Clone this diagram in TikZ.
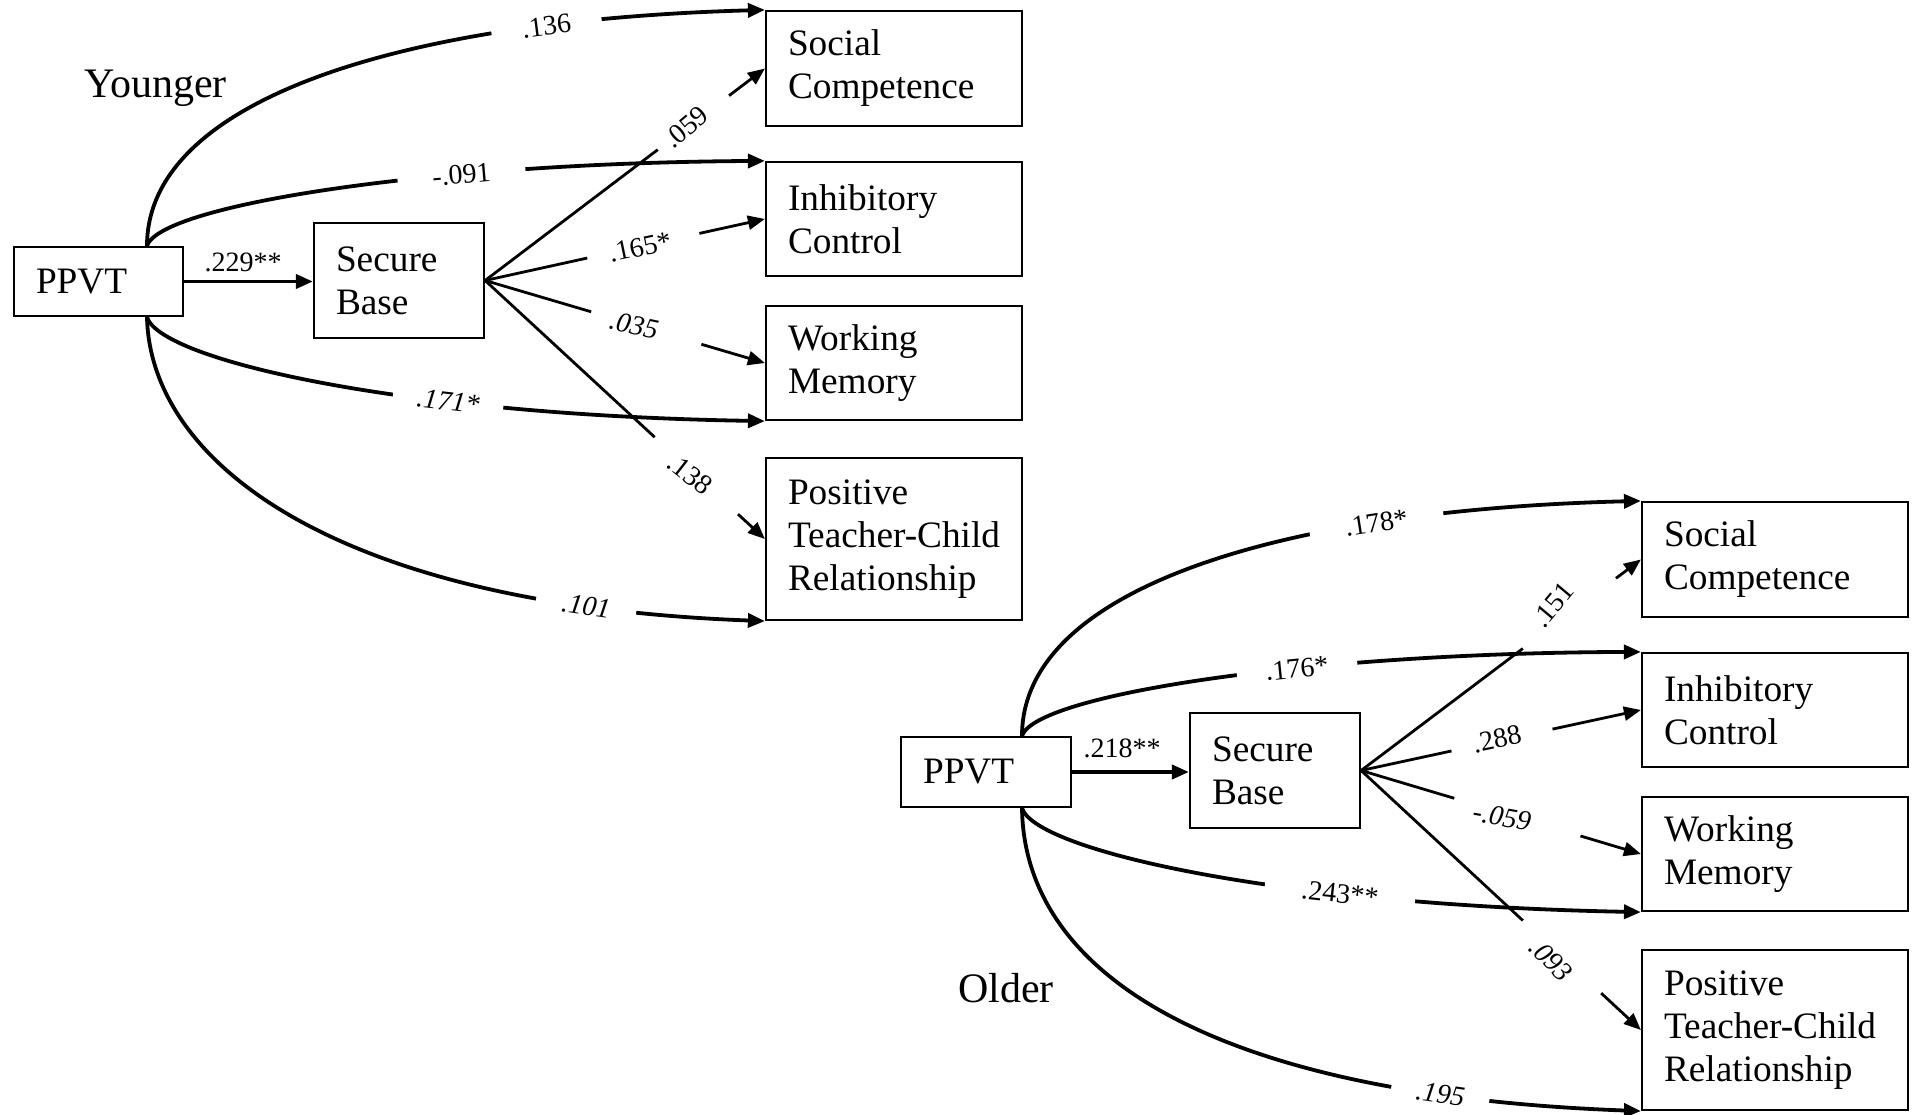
\documentclass[tikz,border=0pt]{standalone}
\usepackage{fontspec}
\setmainfont{Liberation Serif}
\usetikzlibrary{arrows.meta,calc}
\newcommand\bxfont{\fontsize{37.3}{43}\selectfont}
\newcommand\lbfont{\fontsize{28}{34}\selectfont}
\newcommand\grfont{\fontsize{42}{50}\selectfont}
\begin{document}
\begin{tikzpicture}[x=1pt,y=-1pt,
  bx/.style={draw, line width=2.2pt, inner xsep=22pt, inner ysep=0pt, align=left, font=\bxfont},
  tip/.style={-{Triangle[length=17pt,width=14pt]}},
  crv/.style={line width=3.8pt},
  sbl/.style={line width=2.8pt},
  clbl/.style={font=\lbfont, fill=white, inner ysep=2pt, inner xsep=#1, sloped},
  clbli/.style={font=\lbfont\itshape, fill=white, inner ysep=2pt, inner xsep=#1, sloped},
  lbl/.style={font=\lbfont, inner sep=0pt},
  lbli/.style={font=\lbfont\itshape, inner sep=0pt},
  grp/.style={font=\grfont, inner sep=0pt, anchor=base west}]
\fill[white] (0,0) rectangle (1914,1115);
\useasboundingbox (0,0) rectangle (1914,1115);

% ---------- Younger group ----------
\node[grp] (tYoung) at (84,98) {Younger};
\node[bx, minimum width=169pt, minimum height=69pt, text width=125pt] (ppvtY) at (98.5,281.5) {PPVT};
\node[bx, minimum width=170pt, minimum height=115pt, text width=126pt] (sbY) at (399,280.5) {Secure\\Base};
\node[bx, minimum width=256pt, minimum height=115pt, text width=212pt] (socY) at (894,68.5) {Social\\Competence};
\node[bx, minimum width=256pt, minimum height=114pt, text width=212pt] (inhY) at (894,219) {Inhibitory\\Control};
\node[bx, minimum width=256pt, minimum height=114pt, text width=212pt] (wmY) at (894,363) {Working\\Memory};
\node[bx, minimum width=256pt, minimum height=162pt, text width=212pt] (posY) at (894,539) {Positive\\\mbox{Teacher-Child}\\Relationship};

% PPVT -> Secure Base
\draw[crv,tip] (ppvtY.east) -- (ppvtY.east -| sbY.west);
\node[lbl] (y0) at (243,262) {.229**};

% PPVT -> outcomes (labels sit in the gaps of the curves)
\draw[crv,tip] ([xshift=48.5pt]ppvtY.north) .. controls (147,100) and (400,20) ..
  node[clbl=31pt,pos=0.785] (y1) {.136} (socY.north west);
\draw[crv,tip] ([xshift=48.5pt]ppvtY.north) .. controls (160,205) and (430,163) ..
  node[clbl=35pt,pos=0.67] (y2) {-.091} (inhY.north west);
\draw[crv,tip] ([xshift=48.5pt]ppvtY.south) .. controls (160,360) and (400,415) ..
  node[clbli=24pt,pos=0.67] (y3) {.171*} (wmY.south west);
\draw[crv,tip] ([xshift=48.5pt]ppvtY.south) .. controls (150,460) and (330,605) ..
  node[clbli=26pt,pos=0.85] (y4) {.101} (posY.south west);

% Secure Base -> outcomes, broken around their labels
\draw[sbl] (sbY.east) -- ($(sbY.east)!0.617!(socY.west)$);
\draw[sbl,tip] ($(sbY.east)!0.872!(socY.west)$) -- (socY.west);
\draw[sbl] (sbY.east) -- ($(sbY.east)!0.365!(inhY.west)$);
\draw[sbl,tip] ($(sbY.east)!0.766!(inhY.west)$) -- (inhY.west);
\draw[sbl] (sbY.east) -- ($(sbY.east)!0.379!(wmY.west)$);
\draw[sbl,tip] ($(sbY.east)!0.773!(wmY.west)$) -- (wmY.west);
\draw[sbl] (sbY.east) -- ($(sbY.east)!0.606!(posY.west)$);
\draw[sbl,tip] ($(sbY.east)!0.904!(posY.west)$) -- (posY.west);

\node[lbl, rotate=40] (y5) at (686,127) {.059};
\node[lbl, rotate=12] (y6) at (640,247) {.165*};
\node[lbli, rotate=-12] (y7) at (634,325) {.035};
\node[lbl, rotate=-38] (y8) at (690,474) {.138};

% ---------- Older group ----------
\node[grp] (tOld) at (958,1002) {Older};
\node[bx, minimum width=170pt, minimum height=70pt, text width=126pt] (ppvtO) at (986,772) {PPVT};
\node[bx, minimum width=170pt, minimum height=115pt, text width=126pt] (sbO) at (1275,770.5) {Secure\\Base};
\node[bx, minimum width=266pt, minimum height=115pt, text width=222pt] (socO) at (1775,559.5) {Social\\Competence};
\node[bx, minimum width=266pt, minimum height=114pt, text width=222pt] (inhO) at (1775,710) {Inhibitory\\Control};
\node[bx, minimum width=266pt, minimum height=114pt, text width=222pt] (wmO) at (1775,854) {Working\\Memory};
\node[bx, minimum width=266pt, minimum height=160pt, text width=222pt] (posO) at (1775,1030) {Positive\\\mbox{Teacher-Child}\\Relationship};

% PPVT -> Secure Base
\draw[crv,tip] (ppvtO.east) -- (ppvtO.east -| sbO.west);
\node[lbl] (o0) at (1122,748) {.218**};

% PPVT -> outcomes
\draw[crv,tip] ([xshift=36pt]ppvtO.north) .. controls (1022,590) and (1275,510) ..
  node[clbl=36pt,pos=0.735] (o1) {.178*} (socO.north west);
\draw[crv,tip] ([xshift=36pt]ppvtO.north) .. controls (1035,695) and (1305,653) ..
  node[clbl=29pt,pos=0.62] (o2) {.176*} (inhO.north west);
\draw[crv,tip] ([xshift=36pt]ppvtO.south) .. controls (1035,850) and (1275,905) ..
  node[clbl=37pt,pos=0.69] (o3) {.243**} (wmO.south west);
\draw[crv,tip] ([xshift=36pt]ppvtO.south) .. controls (1024,970) and (1205,1095) ..
  node[clbli=25pt,pos=0.83] (o4) {.195} (posO.south west);

% Secure Base -> outcomes, broken around their labels
\draw[sbl] (sbO.east) -- ($(sbO.east)!0.578!(socO.west)$);
\draw[sbl,tip] ($(sbO.east)!0.911!(socO.west)$) -- (socO.west);
\draw[sbl] (sbO.east) -- ($(sbO.east)!0.323!(inhO.west)$);
\draw[sbl,tip] ($(sbO.east)!0.684!(inhO.west)$) -- (inhO.west);
\draw[sbl] (sbO.east) -- ($(sbO.east)!0.333!(wmO.west)$);
\draw[sbl,tip] ($(sbO.east)!0.784!(wmO.west)$) -- (wmO.west);
\draw[sbl] (sbO.east) -- ($(sbO.east)!0.578!(posO.west)$);
\draw[sbl,tip] ($(sbO.east)!0.858!(posO.west)$) -- (posO.west);

\node[lbl, rotate=50] (o5) at (1553,605) {.151};
\node[lbl, rotate=12] (o6) at (1497,739) {.288};
\node[lbli, rotate=-10] (o7) at (1502,817) {-.059};
\node[lbli, rotate=-45] (o8) at (1551,960) {.093};
\end{tikzpicture}
\end{document}
